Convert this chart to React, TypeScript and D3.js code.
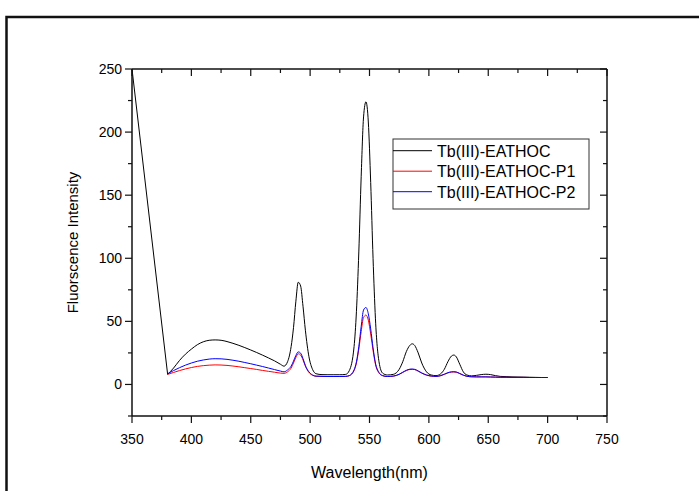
import React from "react";
import * as d3 from "d3";

const seriesNames = ["Tb(III)-EATHOC", "Tb(III)-EATHOC-P1", "Tb(III)-EATHOC-P2"];
const seriesColors = ["#000000", "#ff0000", "#0000ff"];

const xTicks = [350, 400, 450, 500, 550, 600, 650, 700, 750];
const yTicks = [0, 50, 100, 150, 200, 250];

// wavelength grid (nm) shared by all series from 380 on
const wl = [
  380, 385, 390, 395, 400, 405, 410, 415, 420, 425, 430, 435, 440, 445, 450, 455, 460, 465, 470, 475,
  478, 481, 484, 486, 488, 490, 492, 494, 496, 499, 502, 505, 510, 515, 520, 525, 530, 533,
  537, 539, 541, 543, 545, 547, 549, 551, 553, 555, 558, 561, 565, 570, 575, 578, 581, 584, 586, 588,
  591, 594, 598, 602, 606, 610, 613, 616, 619, 621, 623, 626, 629, 632, 636, 640, 644, 648, 652, 656,
  660, 665, 670, 675, 680, 685, 690, 695, 700,
];

// black series starts with a lone point at 350 nm joined by a straight segment
const blackStart = { x: 350, y: 250 };
const black = [
  8, 13, 19, 24, 28, 31.5, 33.8, 35, 35.3, 35, 34, 32.6, 31, 29.2, 27.3, 25.3, 23.2, 21, 18.7, 16,
  14.5, 18, 30, 45, 66, 81, 78, 62, 43, 22, 12, 8.5, 7.8, 7.7, 7.7, 7.7, 8, 11,
  30, 58, 105, 165, 212, 224, 208, 160, 100, 52, 18, 9, 7.5, 8, 12, 18, 26, 31, 32.2, 31,
  25, 17, 10, 7.5, 7, 8.5, 12, 18, 22.5, 23.3, 22, 16, 10, 7.5, 6.8, 7.2, 7.8, 8.1, 7.8, 7,
  6.4, 6.2, 6, 5.9, 5.8, 5.7, 5.6, 5.5, 5.5,
];
const red = [
  8, 9.5, 11, 12.3, 13.4, 14.3, 14.9, 15.3, 15.5, 15.4, 15.1, 14.6, 14, 13.3, 12.6, 11.9, 11.1, 10.4, 9.7, 9,
  8.8, 10, 13, 17, 21.5, 24.3, 23.3, 19.5, 14.5, 9.5, 7.3, 6.5, 6.4, 6.3, 6.3, 6.3, 6.4, 7,
  11, 17, 28, 42, 53, 55, 51, 40, 27, 16, 9, 7, 6.3, 6.6, 8, 9.5, 11, 11.9, 12, 11.8,
  10.5, 9, 7.4, 6.6, 6.4, 7, 8, 9.2, 9.8, 9.9, 9.7, 8.6, 7.3, 6.5, 6.1, 6, 6, 6, 5.9, 5.8,
  5.7, 5.7, 5.6, 5.6, 5.6, 5.5, 5.5, 5.5, 5.5,
];
const blue = [
  8.5, 11, 13.3, 15.3, 17, 18.4, 19.4, 20.1, 20.4, 20.3, 19.9, 19.2, 18.4, 17.4, 16.4, 15.3, 14.2, 13, 11.8, 10.6,
  10, 11.5, 14.5, 18.5, 23, 25.8, 24.8, 20.5, 15, 10, 7.5, 6.6, 6.4, 6.3, 6.3, 6.3, 6.4, 7,
  11.5, 18, 30, 46, 59, 61, 56, 44, 29, 17, 9.5, 7, 6.3, 6.6, 8.1, 9.7, 11.2, 12.1, 12.2, 12,
  10.7, 9.1, 7.5, 6.7, 6.4, 7, 8.1, 9.3, 10, 10.1, 9.9, 8.7, 7.4, 6.5, 6.1, 6, 6, 6, 5.9, 5.8,
  5.7, 5.7, 5.6, 5.6, 5.6, 5.5, 5.5, 5.5, 5.5,
];

const W = 699;
const H = 491;
const left = 132, right = 607, top = 69, bottom = 416;

type P = { x: number; y: number };

export default function App() {
  const x = d3.scaleLinear().domain([350, 750]).range([left, right]);
  const y = d3.scaleLinear().domain([-25, 250]).range([bottom, top]);
  const smooth = d3
    .line<P>()
    .x((d) => x(d.x))
    .y((d) => y(d.y))
    .curve(d3.curveMonotoneX);
  const straight = d3
    .line<P>()
    .x((d) => x(d.x))
    .y((d) => y(d.y));

  const toPts = (vals: number[]) => wl.map((w, i) => ({ x: w, y: vals[i] }));
  const series = [toPts(black), toPts(red), toPts(blue)];

  const xMinor = d3.range(375, 750, 50);
  const yMinor = d3.range(-25, 250, 50);
  const font = "'Liberation Sans', Arial, sans-serif";
  const maj = 7, min = 4;
  const axisColor = "#111";

  return (
    <svg width={W} height={H} style={{ position: "absolute", left: 0, top: 0 }} fontFamily={font}>
      <rect x={0} y={0} width={W} height={H} fill="#fff" />
      <rect x={6.5} y={17} width={W + 50} height={H + 50} fill="none" stroke="#111" strokeWidth={2.5} />

      {/* data */}
      <path d={straight([blackStart, series[0][0]]) || ""} fill="none" stroke={seriesColors[0]} strokeWidth={1} />
      {series.map((s, i) => (
        <path key={i} d={smooth(s) || ""} fill="none" stroke={seriesColors[i]} strokeWidth={1} />
      ))}

      {/* axes frame */}
      <g stroke={axisColor} strokeWidth={1.5} fill="none">
        <line x1={left} x2={right} y1={top} y2={top} />
        <line x1={left} x2={right} y1={bottom} y2={bottom} />
        <line x1={left} x2={left} y1={top} y2={bottom} />
        <line x1={right} x2={right} y1={top} y2={bottom} />
      </g>
      <g stroke={axisColor} strokeWidth={1.2}>
        {xTicks.map((t) => (
          <g key={"xt" + t}>
            <line x1={x(t)} x2={x(t)} y1={bottom} y2={bottom + maj} />
            <line x1={x(t)} x2={x(t)} y1={top} y2={top + maj} />
          </g>
        ))}
        {xMinor.map((t) => (
          <g key={"xm" + t}>
            <line x1={x(t)} x2={x(t)} y1={bottom} y2={bottom + min} />
            <line x1={x(t)} x2={x(t)} y1={top} y2={top + min} />
          </g>
        ))}
        {yTicks.map((t) => (
          <g key={"yt" + t}>
            <line x1={left - maj} x2={left} y1={y(t)} y2={y(t)} />
            <line x1={right - maj} x2={right} y1={y(t)} y2={y(t)} />
          </g>
        ))}
        {yMinor.map((t) => (
          <g key={"ym" + t}>
            <line x1={left - min} x2={left} y1={y(t)} y2={y(t)} />
            <line x1={right - min} x2={right} y1={y(t)} y2={y(t)} />
          </g>
        ))}
      </g>

      {/* tick labels */}
      <g fontSize={14} fill="#000">
        {xTicks.map((t) => (
          <text key={"xl" + t} x={x(t)} y={bottom + 28} textAnchor="middle">
            {t}
          </text>
        ))}
        {yTicks.map((t) => (
          <text key={"yl" + t} x={left - 10} y={y(t) + 5} textAnchor="end">
            {t}
          </text>
        ))}
      </g>

      {/* axis titles */}
      <text x={(left + right) / 2} y={478} fontSize={16} textAnchor="middle">
        Wavelength(nm)
      </text>
      <text
        transform={`translate(${78},${(top + bottom) / 2}) rotate(-90)`}
        fontSize={15}
        textAnchor="middle"
      >
        Fluorscence Intensity
      </text>

      {/* legend */}
      <rect x={393} y={139} width={196} height={70} fill="#fff" stroke="#333" strokeWidth={1} />
      {seriesNames.map((n, i) => {
        const ly = 150.7 + i * 20.5;
        return (
          <g key={n}>
            <line x1={393} x2={432} y1={ly} y2={ly} stroke={seriesColors[i]} strokeWidth={1} />
            <text x={437} y={ly + 6} fontSize={16}>
              {n}
            </text>
          </g>
        );
      })}
    </svg>
  );
}
